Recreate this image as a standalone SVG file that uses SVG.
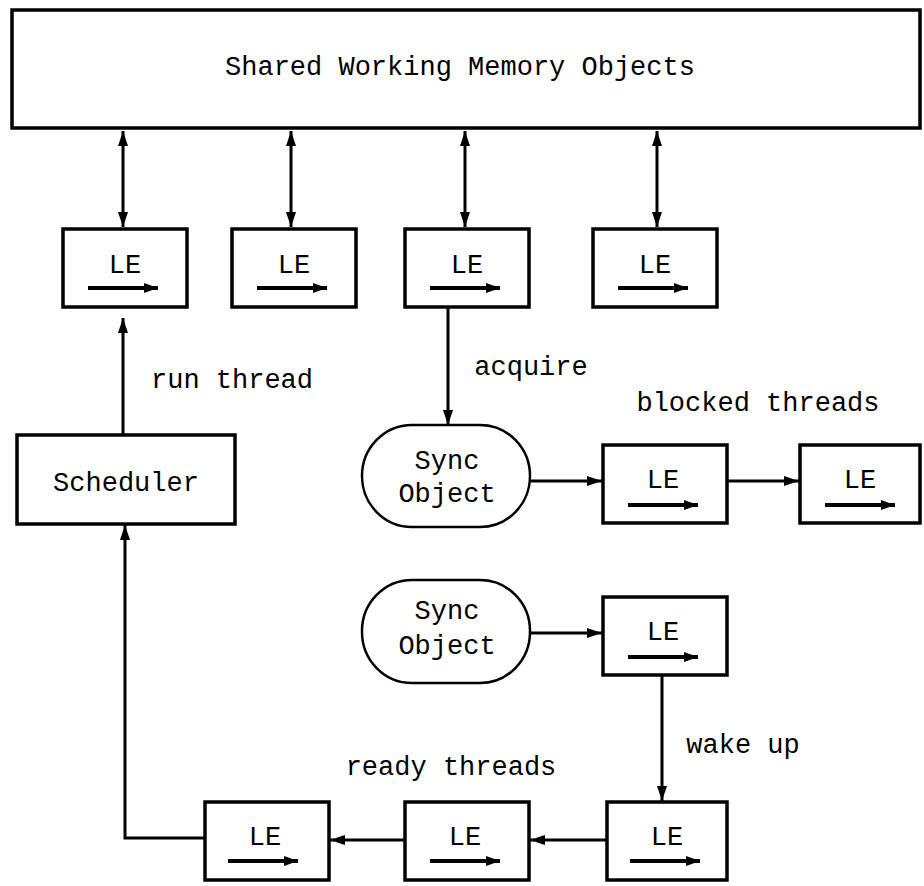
<svg xmlns="http://www.w3.org/2000/svg" width="924" height="886" viewBox="0 0 924 886">
<style>
.box{fill:#fff;stroke:#000;stroke-width:3.5}
.t{font-family:"Liberation Mono","DejaVu Sans Mono",monospace;font-size:27px;fill:#000;text-anchor:middle}
.c{fill:none;stroke:#000;stroke-width:3}
.in{stroke:#000;stroke-width:4;marker-end:url(#sh)}
</style>
<defs>
<marker id="ah" markerUnits="userSpaceOnUse" markerWidth="15" markerHeight="10" refX="15" refY="5" orient="auto-start-reverse"><path d="M0,0 L15,5 L0,10 z" fill="#000"/></marker>
<marker id="sh" markerUnits="userSpaceOnUse" markerWidth="14" markerHeight="10" refX="14" refY="5" orient="auto"><path d="M0,0 L14,5 L0,10 z" fill="#000"/></marker>
</defs>
<g id="connectors">
<line class="c" x1="123" y1="131" x2="123" y2="227" marker-start="url(#ah)" marker-end="url(#ah)"/>
<line class="c" x1="291" y1="131" x2="291" y2="227" marker-start="url(#ah)" marker-end="url(#ah)"/>
<line class="c" x1="465" y1="131" x2="465" y2="227" marker-start="url(#ah)" marker-end="url(#ah)"/>
<line class="c" x1="657" y1="131" x2="657" y2="227" marker-start="url(#ah)" marker-end="url(#ah)"/>
<line class="c" x1="123" y1="435" x2="123" y2="318" marker-end="url(#ah)"/>
<line class="c" x1="448" y1="308" x2="448" y2="425" marker-end="url(#ah)"/>
<line class="c" x1="530" y1="481" x2="602" y2="481" marker-end="url(#ah)"/>
<line class="c" x1="727" y1="481" x2="799" y2="481" marker-end="url(#ah)"/>
<line class="c" x1="530" y1="633" x2="602" y2="633" marker-end="url(#ah)"/>
<line class="c" x1="662" y1="676" x2="662" y2="801" marker-end="url(#ah)"/>
<line class="c" x1="607" y1="840" x2="530" y2="840" marker-end="url(#ah)"/>
<line class="c" x1="405" y1="840" x2="330" y2="840" marker-end="url(#ah)"/>
<polyline class="c" points="205,838 125,838 125,525" marker-end="url(#ah)"/>
</g>
<g id="memory"><rect class="box" x="12" y="10" width="908" height="118"/><text class="t" x="460" y="75">Shared Working Memory Objects</text></g>
<g id="le1"><rect class="box" x="63" y="229" width="124" height="78"/><text class="t" x="125" y="273">LE</text><line class="in" x1="88" y1="288" x2="158" y2="288"/></g>
<g id="le2"><rect class="box" x="232" y="229" width="124" height="78"/><text class="t" x="294" y="273">LE</text><line class="in" x1="257" y1="288" x2="327" y2="288"/></g>
<g id="le3"><rect class="box" x="405" y="229" width="124" height="78"/><text class="t" x="467" y="273">LE</text><line class="in" x1="430" y1="288" x2="500" y2="288"/></g>
<g id="le4"><rect class="box" x="593" y="229" width="124" height="78"/><text class="t" x="655" y="273">LE</text><line class="in" x1="618" y1="288" x2="688" y2="288"/></g>
<g id="scheduler"><rect class="box" x="17" y="435" width="218" height="89"/><text class="t" x="126" y="491">Scheduler</text></g>
<g id="sync1"><rect class="box" x="362" y="425" width="168" height="102" rx="50" ry="51" style="stroke-width:2.5"/><text class="t" x="447" y="469">Sync</text><text class="t" x="447" y="502">Object</text></g>
<g id="blocked1"><rect class="box" x="603" y="445" width="124" height="78"/><text class="t" x="663" y="488">LE</text><line class="in" x1="628" y1="505" x2="698" y2="505"/></g>
<g id="blocked2"><rect class="box" x="800" y="445" width="120" height="78"/><text class="t" x="860" y="488">LE</text><line class="in" x1="825" y1="505" x2="895" y2="505"/></g>
<g id="sync2"><rect class="box" x="362" y="580" width="168" height="103" rx="50" ry="51" style="stroke-width:2.5"/><text class="t" x="447" y="619">Sync</text><text class="t" x="447" y="654">Object</text></g>
<g id="woken"><rect class="box" x="603" y="597" width="124" height="78"/><text class="t" x="663" y="640">LE</text><line class="in" x1="628" y1="657" x2="698" y2="657"/></g>
<g id="ready3"><rect class="box" x="607" y="802" width="120" height="78"/><text class="t" x="667" y="845">LE</text><line class="in" x1="630" y1="861" x2="700" y2="861"/></g>
<g id="ready2"><rect class="box" x="405" y="802" width="124" height="78"/><text class="t" x="465" y="845">LE</text><line class="in" x1="430" y1="861" x2="500" y2="861"/></g>
<g id="ready1"><rect class="box" x="205" y="802" width="124" height="78"/><text class="t" x="265" y="845">LE</text><line class="in" x1="228" y1="861" x2="298" y2="861"/></g>
<g id="labels">
<text class="t" x="232" y="388">run thread</text>
<text class="t" x="531" y="375">acquire</text>
<text class="t" x="758" y="411">blocked threads</text>
<text class="t" x="743" y="753">wake up</text>
<text class="t" x="451" y="775">ready threads</text>
</g>
</svg>
